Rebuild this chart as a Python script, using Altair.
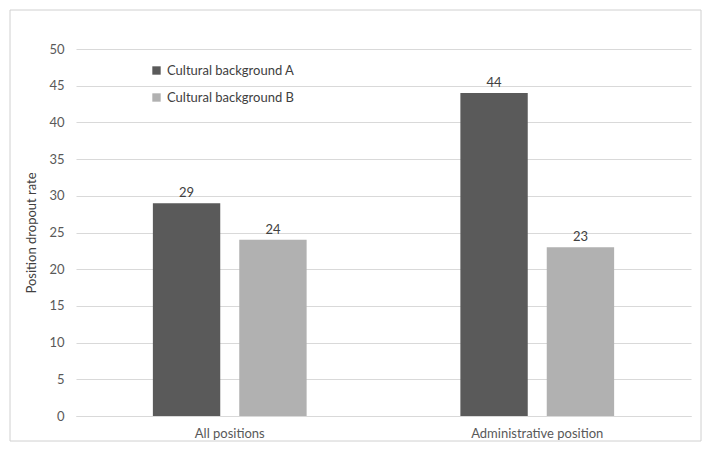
import altair as alt
import pandas as pd

categories = ["All positions", "Administrative position"]
series = ["Cultural background A", "Cultural background B"]
values_a = [29, 44]
values_b = [24, 23]
colors = ["#5a5a5a", "#b1b1b1"]

rows = []
for i, c in enumerate(categories):
    rows.append({"category": c, "series": series[0], "value": values_a[i]})
    rows.append({"category": c, "series": series[1], "value": values_b[i]})
df = pd.DataFrame(rows)

W, H = 615, 367
FONT = "Lato"

x = alt.X("category:N", sort=categories, title=None,
          scale=alt.Scale(paddingInner=0.5, paddingOuter=0.25),
          axis=alt.Axis(labelAngle=0, ticks=False, domain=True, domainColor="#d9d9d9",
                        labelFontSize=13, labelColor="#595959", labelFont=FONT, labelPadding=11))
xo = alt.XOffset("series:N", sort=series, scale=alt.Scale(paddingInner=0.22))
y = alt.Y("value:Q", title="Position dropout rate",
          scale=alt.Scale(domain=[0, 50]),
          axis=alt.Axis(values=list(range(0, 51, 5)), ticks=False, domain=False,
                        gridColor="#d9d9d9", labelFontSize=13, labelColor="#595959",
                        labelFont=FONT, labelPadding=12, titleFont=FONT, titleFontSize=13,
                        titleFontWeight="normal", titleColor="#404040", titlePadding=10))

bars = alt.Chart(df).mark_bar().encode(
    x=x, xOffset=xo, y=y,
    color=alt.Color("series:N", sort=series, scale=alt.Scale(domain=series, range=colors),
                    legend=alt.Legend(title=None, orient="none", legendX=74, legendY=15,
                                      symbolType="square", symbolSize=70, symbolStrokeWidth=0,
                                      labelFontSize=13, labelColor="#404040", labelFont=FONT,
                                      rowPadding=13, labelOffset=4)),
)

labels = alt.Chart(df).mark_text(dy=-10, fontSize=13, color="#404040", font=FONT).encode(
    x=x, xOffset=xo, y=y, text="value:Q"
)

border = alt.Chart(pd.DataFrame({"a": [0]})).mark_rect(
    fill=None, stroke="#d0d0d0", strokeWidth=1
).encode(
    x=alt.value(-66), x2=alt.value(W + 10), y=alt.value(-39), y2=alt.value(H + 25)
)

chart = alt.layer(bars, labels, border).properties(
    width=W, height=H,
    autosize=alt.AutoSizeParams(type="none"),
    padding={"left": 68, "top": 41, "right": 12, "bottom": 27},
    background="white",
).configure_view(stroke=None)

chart.save("out.html", embed_options={"renderer": "svg", "actions": False})
